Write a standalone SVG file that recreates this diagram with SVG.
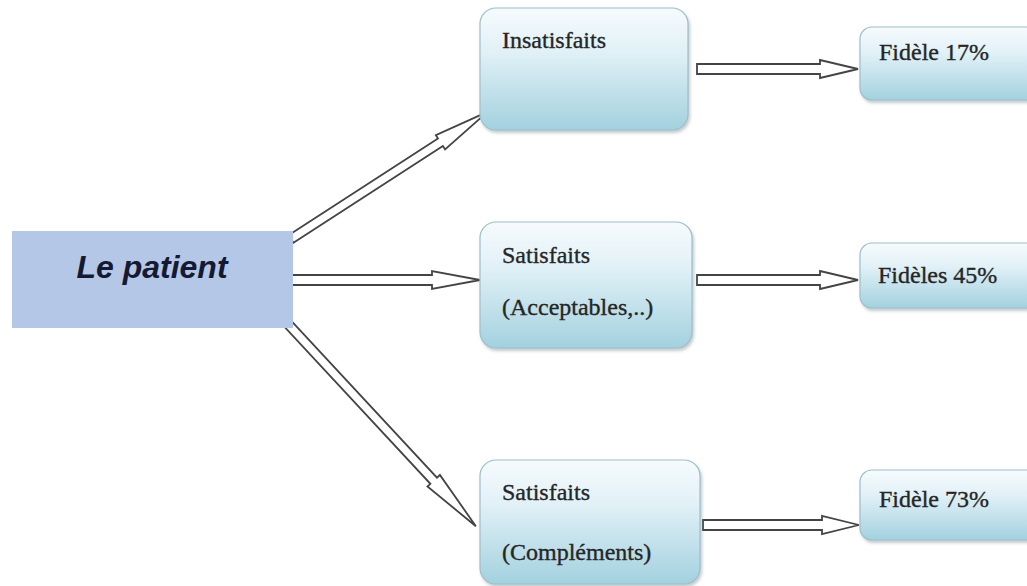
<svg xmlns="http://www.w3.org/2000/svg" width="1027" height="586" viewBox="0 0 1027 586">
<defs>
<linearGradient id="g" x1="0" y1="0" x2="0" y2="1">
<stop offset="0" stop-color="#f6fbfd"/>
<stop offset="0.35" stop-color="#e2f1f7"/>
<stop offset="1" stop-color="#a3d1df"/>
</linearGradient>
<filter id="sh" x="-10%" y="-10%" width="130%" height="130%">
<feDropShadow dx="1.5" dy="2.5" stdDeviation="1.5" flood-color="#7a8a90" flood-opacity="0.45"/>
</filter>
</defs>
<style>
.box{fill:url(#g);stroke:#9dbfca;stroke-width:1.2;filter:url(#sh)}
.t{font-family:"Liberation Serif","Times New Roman",serif;font-size:24px;fill:#262626;stroke:#262626;stroke-width:0.35}
.arr{fill:#ffffff;stroke:#444444;stroke-width:1.8;stroke-linejoin:miter}
</style>
<rect width="1027" height="586" fill="#ffffff"/>
<g id="connectors">
<polygon class="arr" points="697,64 820,64 820,60 858,69 820,78 820,74 697,74"/>
<polygon class="arr" points="697,275 820,275 820,271 858,280 820,289 820,285 697,285"/>
<polygon class="arr" points="703,520 822,520 822,516 859,525 822,534 822,530 703,530"/>
<polygon class="arr" points="290,275 432,275 432,271 480,280 432,289 432,285 290,285"/>
<polygon class="arr" transform="translate(291,239) rotate(-32.9)" points="0,-4.5 178,-4.5 178,-8.5 234,0 178,8.5 178,4.5 0,4.5"/>
<polygon class="arr" transform="translate(288,324) rotate(47.1)" points="0,-4.5 214,-4.5 214,-8.5 276,0 214,8.5 214,4.5 0,4.5"/>
</g>
<g id="patient">
<rect x="12" y="231" width="281" height="97" fill="#b4c7e7"/>
<text x="152" y="278" text-anchor="middle" font-family="'Liberation Sans',Arial,sans-serif" font-size="32" font-weight="bold" font-style="italic" fill="#151a33">Le patient</text>
</g>
<g id="insatisfaits">
<rect class="box" x="480" y="8" width="208" height="122" rx="16"/>
<text class="t" x="502" y="48">Insatisfaits</text>
</g>
<g id="satisfaits-acceptables">
<rect class="box" x="480" y="222" width="212" height="126" rx="16"/>
<text class="t" x="502" y="263">Satisfaits</text>
<text class="t" x="502" y="315">(Acceptables,..)</text>
</g>
<g id="satisfaits-complements">
<rect class="box" x="480" y="460" width="220" height="124" rx="16"/>
<text class="t" x="502" y="500">Satisfaits</text>
<text class="t" x="502" y="560">(Compléments)</text>
</g>
<g id="fidele17">
<rect class="box" x="860" y="27" width="190" height="73" rx="12"/>
<text class="t" x="879" y="60">Fidèle 17%</text>
</g>
<g id="fideles45">
<rect class="box" x="860" y="243" width="190" height="65" rx="12"/>
<text class="t" x="878" y="283">Fidèles 45%</text>
</g>
<g id="fidele73">
<rect class="box" x="860" y="470" width="190" height="70" rx="12"/>
<text class="t" x="879" y="507">Fidèle 73%</text>
</g>
</svg>
